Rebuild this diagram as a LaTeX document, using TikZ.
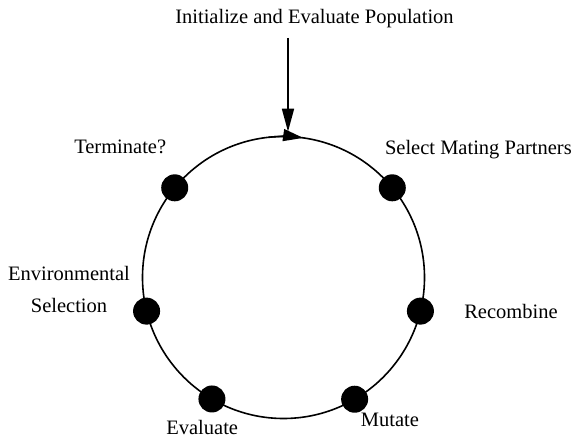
\documentclass[tikz,border=0pt]{standalone}
\usepackage{fontspec}
\setmainfont{Liberation Serif}
\usetikzlibrary{arrows.meta,calc}
\begin{document}
\begin{tikzpicture}[x=1pt,y=1pt,
  lbl/.style={font=\fontsize{20.5}{31.6}\selectfont, inner sep=0pt, anchor=base},
  dotnode/.style={circle, fill=black, minimum size=27pt, inner sep=0pt},
  ring/.style={line width=1.6pt},
  arr/.style={line width=1.6pt, -{Triangle[length=23pt,width=12pt]}}]
\useasboundingbox (0,0) rectangle (573,441);
\coordinate (C) at (283.5,163.5);
\draw[ring] (C) circle[radius=141];
\draw[arr, -{Triangle[length=20pt,width=12pt]}] ($(C)+(96:141)$) arc[start angle=96, end angle=82, radius=141];
% dots
\node[dotnode] (dterm) at ($(C)+(140.5:141)$) {};
\node[dotnode] (dsel)  at ($(C)+(39.5:141)$) {};
\node[dotnode] (denv)  at ($(C)+(193.8:141)$) {};
\node[dotnode] (drec)  at ($(C)+(-13.8:141)$) {};
\node[dotnode] (deval) at ($(C)+(239.5:141)$) {};
\node[dotnode] (dmut)  at ($(C)+(-59.7:141)$) {};
% labels
\node[lbl] (init) at (314.5,417.7) {Initialize and Evaluate Population};
\node[lbl] (term) at (120.2,287.7) {Terminate?};
\node[lbl] (sel)  at (478.4,286.7) {Select Mating Partners};
\node[lbl, align=center] (env) at (69,128.7) {Environmental\\Selection};
\node[lbl] (rec)  at (511,122.7) {Recombine};
\node[lbl] (eval) at (202.2,6) {Evaluate};
\node[lbl] (mut)  at (390,14.3) {Mutate};
% entry arrow
\coordinate (astart) at (288,403);
\coordinate (aend) at (288,309.3);
\draw[arr] (astart) -- (aend);
\end{tikzpicture}
\end{document}
